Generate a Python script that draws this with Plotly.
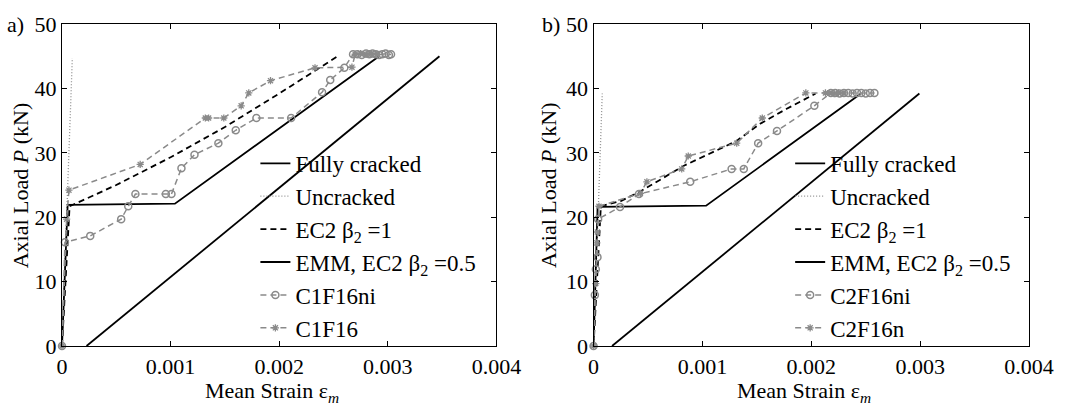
import plotly.graph_objects as go

# ---------------- panel a) ----------------
a_full_x = [0.000226, 0.003476]
a_full_y = [0, 45]
a_unc_x = [0, 0.000095]
a_unc_y = [0, 44.7]
a_ec2_x = [0, 0.00007, 0.0005, 0.001, 0.0015, 0.002, 0.00254]
a_ec2_y = [0, 21.7, 25.0, 29.3, 34.0, 39.2, 45.0]
a_emm_x = [0, 0.000052, 0.00104, 0.00292]
a_emm_y = [0, 21.9, 22.1, 45.0]
a_ni_x = [0, 0.000027, 0.00026, 0.000545, 0.00061, 0.000676, 0.000956, 0.001008,
          0.0011, 0.00122, 0.00144, 0.0016, 0.00179, 0.00211, 0.002395, 0.00247,
          0.0026, 0.00268, 0.00272, 0.00276, 0.0028, 0.00283, 0.00286, 0.00289,
          0.00292, 0.00295, 0.00298, 0.00301, 0.00303]
a_ni_y = [0, 16.1, 17.1, 19.7, 21.7, 23.6, 23.6, 23.6,
          27.6, 29.7, 31.5, 33.5, 35.4, 35.4, 39.4, 41.3,
          43.2, 45.3, 45.3, 45.2, 45.4, 45.3, 45.4, 45.3,
          45.2, 45.3, 45.4, 45.2, 45.3]
a_n_x = [0, 0.000043, 0.000064, 0.00072, 0.00132, 0.00135, 0.00149, 0.00165,
         0.00172, 0.00192, 0.00233, 0.00267, 0.0027, 0.00275, 0.0028, 0.00285, 0.0029]
a_n_y = [0, 19.7, 24.2, 28.2, 35.4, 35.4, 35.4, 37.3,
         39.3, 41.2, 43.2, 43.3, 45.3, 45.4, 45.3, 45.4, 45.3]

# ---------------- panel b) ----------------
b_full_x = [0.00017, 0.002993]
b_full_y = [0, 39.2]
b_unc_x = [0, 0.00008]
b_unc_y = [0, 39.2]
b_ec2_x = [0, 0.000067, 0.00025, 0.00043, 0.00083, 0.00131, 0.00153, 0.00177, 0.00204]
b_ec2_y = [0, 21.7, 22.5, 24.0, 28.0, 31.8, 34.5, 36.8, 39.2]
b_emm_x = [0, 0.000037, 0.001034, 0.002457]
b_emm_y = [0, 21.6, 21.8, 39.2]
b_ni_x = [0, 0.000012, 0.000021, 0.000036, 0.000042, 0.000243, 0.000417, 0.000888,
          0.001268, 0.00138, 0.001512, 0.001685, 0.002028, 0.00218, 0.00222, 0.00226,
          0.0023, 0.00234, 0.00238, 0.00242, 0.00246, 0.0025, 0.00254, 0.00258]
b_ni_y = [0, 7.9, 11.9, 13.8, 19.7, 21.6, 23.6, 25.5,
          27.5, 27.5, 31.5, 33.4, 37.3, 39.3, 39.3, 39.2,
          39.3, 39.3, 39.2, 39.3, 39.3, 39.2, 39.3, 39.3]
b_n_x = [0, 0.00002, 0.00003, 0.000035, 0.00005, 0.00043, 0.00049, 0.00081, 0.00087,
         0.001315, 0.00155, 0.00195, 0.00213, 0.00217, 0.00221, 0.00225, 0.0023]
b_n_y = [0, 9.7, 16.0, 17.7, 21.7, 23.7, 25.5, 27.5, 29.5,
         31.5, 35.4, 39.3, 39.3, 39.3, 39.2, 39.3, 39.3]

x_ticks = [0, 0.001, 0.002, 0.003, 0.004]
x_tick_text = ["0", "0.001", "0.002", "0.003", "0.004"]
y_ticks = [0, 10, 20, 30, 40, 50]

X_TITLE = "Mean Strain ε<sub><i>m</i></sub>"
Y_TITLE = "Axial Load <i>P</i> (kN)"

FONT = "Liberation Serif"
FS = 22
FS_LEG = 23
GRAY = "#8a8a8a"
BLACK = "#000000"

fig = go.Figure()


def add_panel(col, legend, full, unc, ec2, emm, ni, n, names):
    xa = "x" if col == 1 else "x2"
    ya = "y" if col == 1 else "y2"
    common = dict(xaxis=xa, yaxis=ya, legend=legend, cliponaxis=False)
    fig.add_trace(go.Scatter(x=full[0], y=full[1], mode="lines", name="Fully cracked",
                             line=dict(color=BLACK, width=1.8), **common))
    fig.add_trace(go.Scatter(x=unc[0], y=unc[1], mode="lines", name="Uncracked",
                             line=dict(color="#8f8f8f", width=1.3, dash="1px,2px"), **common))
    fig.add_trace(go.Scatter(x=ec2[0], y=ec2[1], mode="lines", name="EC2 β<sub>2</sub> =1",
                             line=dict(color=BLACK, width=1.8, dash="6px,4px"), **common))
    fig.add_trace(go.Scatter(x=emm[0], y=emm[1], mode="lines",
                             name="EMM, EC2 β<sub>2</sub> =0.5",
                             line=dict(color=BLACK, width=1.8), **common))
    fig.add_trace(go.Scatter(x=ni[0], y=ni[1], mode="lines+markers", name=names[0],
                             line=dict(color=GRAY, width=1.5, dash="6px,4px"),
                             marker=dict(symbol="circle-open", size=7, color=GRAY,
                                         line=dict(color=GRAY, width=1.5)), **common))
    fig.add_trace(go.Scatter(x=n[0], y=n[1], mode="lines+markers", name=names[1],
                             line=dict(color=GRAY, width=1.5, dash="6px,4px"),
                             marker=dict(symbol="asterisk-open", size=6, color=GRAY,
                                         line=dict(color=GRAY, width=1.3)), **common))


add_panel(1, "legend", (a_full_x, a_full_y), (a_unc_x, a_unc_y), (a_ec2_x, a_ec2_y),
          (a_emm_x, a_emm_y), (a_ni_x, a_ni_y), (a_n_x, a_n_y), ("C1F16ni", "C1F16"))
add_panel(2, "legend2", (b_full_x, b_full_y), (b_unc_x, b_unc_y), (b_ec2_x, b_ec2_y),
          (b_emm_x, b_emm_y), (b_ni_x, b_ni_y), (b_n_x, b_n_y), ("C2F16ni", "C2F16n"))

axis_common = dict(showgrid=False, zeroline=False, showline=True, linecolor=BLACK,
                   linewidth=1.3, mirror="ticks", ticks="inside", ticklen=5,
                   tickcolor=BLACK, tickwidth=1, tickfont=dict(family=FONT, size=FS, color=BLACK))
xaxis_common = dict(axis_common, range=[0, 0.004], tickvals=x_ticks, ticktext=x_tick_text)
yaxis_common = dict(axis_common, range=[0, 50], tickvals=y_ticks)

legend_common = dict(bgcolor="rgba(0,0,0,0)", borderwidth=0, xanchor="left", yanchor="top",
                     font=dict(family=FONT, size=FS_LEG, color=BLACK), tracegroupgap=0,
                     itemwidth=30)

title_font = dict(family=FONT, size=FS, color=BLACK)


def label(text, x, y, angle=0):
    return dict(text=text, x=x, y=y, xref="paper", yref="paper", showarrow=False,
                xanchor="center", yanchor="middle", textangle=angle, font=title_font)


fig.update_layout(
    width=1066, height=407,
    margin=dict(l=62, r=29, t=14, b=61),
    paper_bgcolor="white", plot_bgcolor="white",
    font=dict(family=FONT, size=FS, color=BLACK),
    xaxis=dict(xaxis_common, domain=[0, 0.4492], anchor="y"),
    yaxis=dict(yaxis_common, domain=[0, 1], anchor="x"),
    xaxis2=dict(xaxis_common, domain=[0.5497, 1], anchor="y2"),
    yaxis2=dict(yaxis_common, domain=[0, 1], anchor="x2"),
    legend=dict(legend_common, x=0.2, y=0.634),
    legend2=dict(legend_common, x=0.753, y=0.634),
    showlegend=True,
    annotations=[
        label("a)", -0.048, 1.0),
        label("b)", 0.506, 1.0),
        label(X_TITLE, 0.2174, -0.144),
        label(X_TITLE, 0.767, -0.144),
        label(Y_TITLE, -0.0431, 0.5, -90),
        label(Y_TITLE, 0.5026, 0.5, -90),
    ],
)

fig.write_html("out.html")
